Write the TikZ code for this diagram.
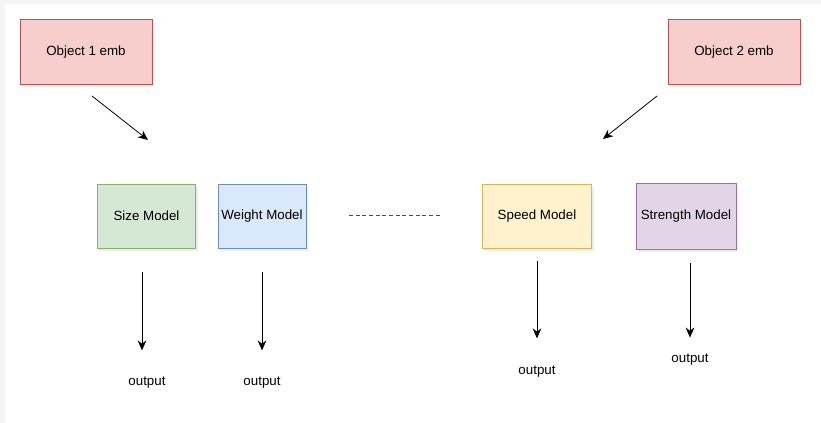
\documentclass[tikz,border=0pt]{standalone}
\usepackage{fontspec}
\setmainfont{Liberation Sans}
\usepackage{tikz}
\usetikzlibrary{arrows.meta,shadows}

\definecolor{embfill}{HTML}{F8CECC}
\definecolor{embline}{HTML}{B85450}
\definecolor{sizefill}{HTML}{D5E8D4}
\definecolor{sizeline}{HTML}{82B366}
\definecolor{weightfill}{HTML}{DAE8FC}
\definecolor{weightline}{HTML}{6C8EBF}
\definecolor{speedfill}{HTML}{FFF2CC}
\definecolor{speedline}{HTML}{D6B656}
\definecolor{strengthfill}{HTML}{E1D5E7}
\definecolor{strengthline}{HTML}{9673A6}

\tikzset{
  box/.style={draw, rectangle, line width=0.6pt, inner sep=2pt,
    drop shadow={shadow xshift=1.5pt, shadow yshift=-2pt, opacity=0.15}},
  flow/.style={-{Stealth[length=7.5pt,width=6.5pt]}, line width=0.6pt}
}

\begin{document}
\begin{tikzpicture}[x=0.75pt, y=0.75pt, font=\fontsize{10}{12}\selectfont]
        % page
        \fill[black!4] (0,0) rectangle (821,-423);
        \fill[white] (5,-4) rectangle (821,-423);

        % embeddings
        \node (obj1) [box, fill=embfill, draw=embline, minimum width=99pt, minimum height=49pt] at (86,-52) {Object 1 emb};
        \node (obj2) [box, fill=embfill, draw=embline, minimum width=99pt, minimum height=49pt] at (734,-52) {Object 2 emb};

        % models
        \node (size) [box, fill=sizefill, draw=sizeline, minimum width=74pt, minimum height=48pt] at (146.5,-216) {Size Model};
        \node (weight) [box, fill=weightfill, draw=weightline, minimum width=66pt, minimum height=48pt] at (262,-216) {Weight Model};
        \node (speed) [box, fill=speedfill, draw=speedline, minimum width=82pt, minimum height=48pt] at (537,-216) {Speed Model};
        \node (strength) [box, fill=strengthfill, draw=strengthline, minimum width=75pt, minimum height=49pt] at (686,-216.5) {Strength Model};

        % outputs
        \node (out1) at (147,-383) {output};
        \node (out2) at (262,-383) {output};
        \node (out3) at (537,-372) {output};
        \node (out4) at (690,-360) {output};

        % free arrow ends
        \coordinate (e1a) at (92,-96);
        \coordinate (e1b) at (148,-140);
        \coordinate (e2a) at (657,-96);
        \coordinate (e2b) at (603,-139);
        \coordinate (d1) at (349,-215);
        \coordinate (d2) at (440,-215);

        \draw[flow] (e1a) -- (e1b);
        \draw[flow] (e2a) -- (e2b);
        \draw[black!70, line width=0.6pt, dash pattern=on 3pt off 2pt] (d1) -- (d2);

        \draw[flow] (size.south -| 142,0) ++(0,-24) -- ++(0,-78);
        \draw[flow] (weight.south) ++(0,-24) -- ++(0,-78);
        \draw[flow] (speed.south) ++(0,-13) -- ++(0,-77);
        \draw[flow] (strength.south -| 690,0) ++(0,-13) -- ++(0,-75);
    \end{tikzpicture}
\end{document}
